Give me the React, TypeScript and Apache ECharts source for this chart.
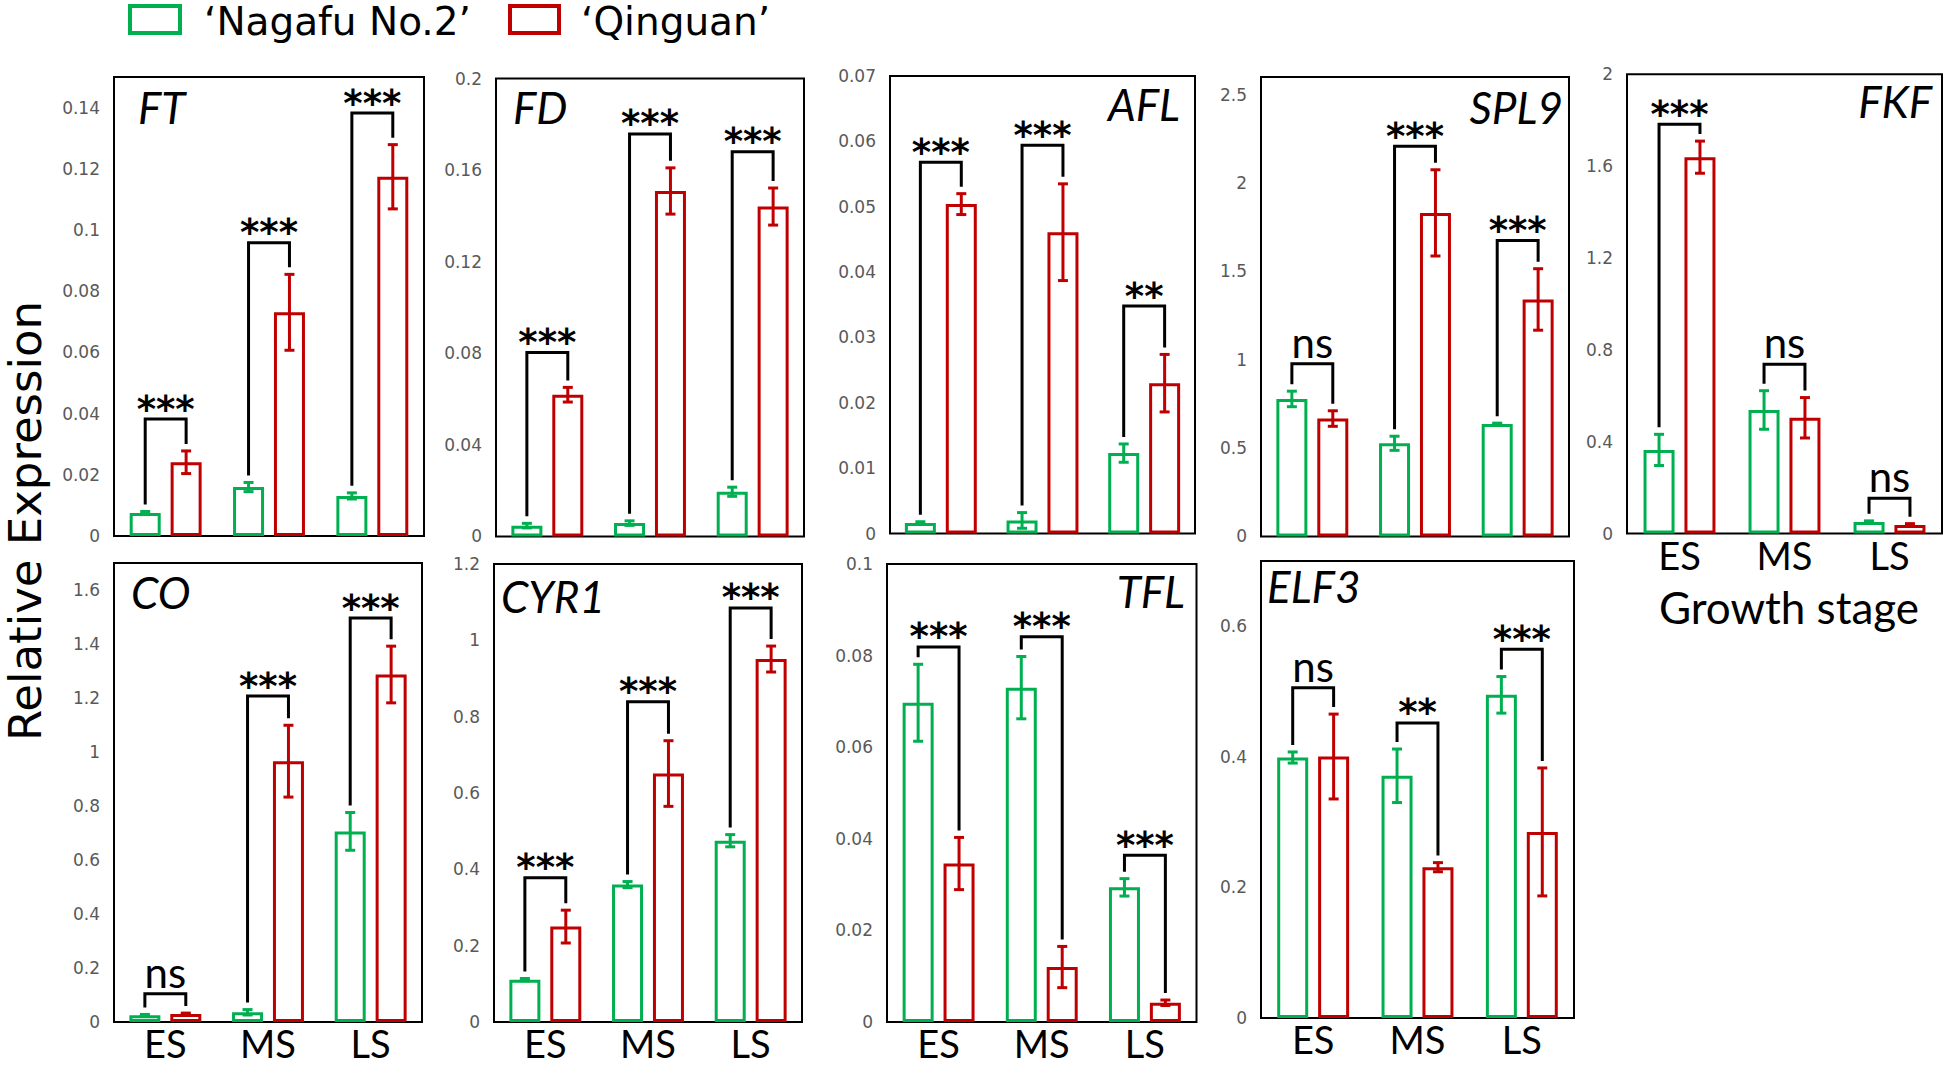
import React, { useEffect, useRef } from 'react';
import * as echarts from 'echarts';

// ---------- data ----------
const STAGES = ['ES', 'MS', 'LS'];
const SERIES_NAMES = ['\u2018Nagafu No.2\u2019', '\u2018Qinguan\u2019'];
const GENE_NAMES = ['FT', 'FD', 'AFL', 'SPL9', 'FKF', 'CO', 'CYR1', 'TFL', 'ELF3'];
const Y_MAX = [0.15, 0.2, 0.07, 2.6, 2, 1.7, 1.2, 0.1, 0.7];
const Y_INTERVAL = [0.02, 0.04, 0.01, 0.5, 0.4, 0.2, 0.2, 0.02, 0.2];

const FT_NAGAFU = [0.0075, 0.016, 0.0131];
const FT_NAGAFU_SD = [0.0005, 0.0015, 0.001];
const FT_QINGUAN = [0.0241, 0.0731, 0.1174];
const FT_QINGUAN_SD = [0.0037, 0.0124, 0.0105];
const FT_BRACKET = [0.0382, 0.0958, 0.1382];
const FT_SIG = ['***', '***', '***'];

const FD_NAGAFU = [0.0047, 0.0058, 0.0195];
const FD_NAGAFU_SD = [0.001, 0.001, 0.002];
const FD_QINGUAN = [0.0619, 0.1509, 0.1441];
const FD_QINGUAN_SD = [0.0032, 0.0101, 0.0081];
const FD_BRACKET = [0.0803, 0.1758, 0.168];
const FD_SIG = ['***', '***', '***'];

const AFL_NAGAFU = [0.0016, 0.002, 0.0123];
const AFL_NAGAFU_SD = [0.0002, 0.0012, 0.0014];
const AFL_QINGUAN = [0.0504, 0.0461, 0.023];
const AFL_QINGUAN_SD = [0.0016, 0.0074, 0.0044];
const AFL_BRACKET = [0.0568, 0.0594, 0.0348];
const AFL_SIG = ['***', '***', '**'];

const SPL9_NAGAFU = [0.778, 0.527, 0.636];
const SPL9_NAGAFU_SD = [0.044, 0.04, 0.005];
const SPL9_QINGUAN = [0.667, 1.831, 1.341];
const SPL9_QINGUAN_SD = [0.044, 0.244, 0.174];
const SPL9_BRACKET = [0.977, 2.208, 1.675];
const SPL9_SIG = ['ns', '***', '***'];

const FKF_NAGAFU = [0.364, 0.538, 0.05];
const FKF_NAGAFU_SD = [0.068, 0.084, 0.005];
const FKF_QINGUAN = [1.639, 0.504, 0.037];
const FKF_QINGUAN_SD = [0.07, 0.088, 0.006];
const FKF_BRACKET = [1.782, 0.737, 0.154];
const FKF_SIG = ['***', 'ns', 'ns'];

const CO_NAGAFU = [0.025, 0.036, 0.706];
const CO_NAGAFU_SD = [0.003, 0.01, 0.07];
const CO_QINGUAN = [0.03, 0.966, 1.287];
const CO_QINGUAN_SD = [0.003, 0.133, 0.105];
const CO_BRACKET = [0.105, 1.207, 1.496];
const CO_SIG = ['ns', '***', '***'];

const CYR1_NAGAFU = [0.111, 0.36, 0.475];
const CYR1_NAGAFU_SD = [0.003, 0.008, 0.016];
const CYR1_QINGUAN = [0.25, 0.651, 0.951];
const CYR1_QINGUAN_SD = [0.043, 0.086, 0.034];
const CYR1_BRACKET = [0.378, 0.839, 1.085];
const CYR1_SIG = ['***', '***', '***'];

const TFL_NAGAFU = [0.0697, 0.073, 0.0294];
const TFL_NAGAFU_SD = [0.0084, 0.0068, 0.0019];
const TFL_QINGUAN = [0.0346, 0.012, 0.0042];
const TFL_QINGUAN_SD = [0.0057, 0.0045, 0.0006];
const TFL_BRACKET = [0.0819, 0.0841, 0.0364];
const TFL_SIG = ['***', '***', '***'];

const ELF3_NAGAFU = [0.399, 0.371, 0.495];
const ELF3_NAGAFU_SD = [0.0085, 0.041, 0.028];
const ELF3_QINGUAN = [0.4005, 0.231, 0.285];
const ELF3_QINGUAN_SD = [0.065, 0.007, 0.098];
const ELF3_BRACKET = [0.506, 0.452, 0.565];
const ELF3_SIG = ['ns', '**', '***'];

const GENES = [
  [FT_NAGAFU, FT_NAGAFU_SD, FT_QINGUAN, FT_QINGUAN_SD, FT_BRACKET, FT_SIG],
  [FD_NAGAFU, FD_NAGAFU_SD, FD_QINGUAN, FD_QINGUAN_SD, FD_BRACKET, FD_SIG],
  [AFL_NAGAFU, AFL_NAGAFU_SD, AFL_QINGUAN, AFL_QINGUAN_SD, AFL_BRACKET, AFL_SIG],
  [SPL9_NAGAFU, SPL9_NAGAFU_SD, SPL9_QINGUAN, SPL9_QINGUAN_SD, SPL9_BRACKET, SPL9_SIG],
  [FKF_NAGAFU, FKF_NAGAFU_SD, FKF_QINGUAN, FKF_QINGUAN_SD, FKF_BRACKET, FKF_SIG],
  [CO_NAGAFU, CO_NAGAFU_SD, CO_QINGUAN, CO_QINGUAN_SD, CO_BRACKET, CO_SIG],
  [CYR1_NAGAFU, CYR1_NAGAFU_SD, CYR1_QINGUAN, CYR1_QINGUAN_SD, CYR1_BRACKET, CYR1_SIG],
  [TFL_NAGAFU, TFL_NAGAFU_SD, TFL_QINGUAN, TFL_QINGUAN_SD, TFL_BRACKET, TFL_SIG],
  [ELF3_NAGAFU, ELF3_NAGAFU_SD, ELF3_QINGUAN, ELF3_QINGUAN_SD, ELF3_BRACKET, ELF3_SIG],
];

// ---------- layout / style ----------
const GREEN = '#00B050';
const RED = '#C00000';
const BAR_W = 31;
const BAR_GAP = 0.32;
const LEG_GAP = 7;
const CAP_HALF = 5;

const LAYOUT = [
  { l: 114, t: 77, w: 310, h: 459, xl: false, nx: 138, ny: 107, na: 'left' },
  { l: 496, t: 78.6, w: 308, h: 457.8, xl: false, nx: 513, ny: 107, na: 'left' },
  { l: 890, t: 76, w: 305, h: 457.5, xl: false, nx: 1180, ny: 104, na: 'right' },
  { l: 1261, t: 77, w: 308, h: 459.4, xl: false, nx: 1563, ny: 107, na: 'right' },
  { l: 1627, t: 74.3, w: 315, h: 459.2, xl: true, nx: 1932, ny: 101, na: 'right' },
  { l: 114, t: 563, w: 308, h: 459, xl: true, nx: 131, ny: 592, na: 'left' },
  { l: 494, t: 564, w: 308, h: 458, xl: true, nx: 501, ny: 596, na: 'left' },
  { l: 887, t: 564, w: 309.5, h: 458, xl: true, nx: 1185, ny: 591, na: 'right' },
  { l: 1261, t: 561, w: 313, h: 457, xl: true, nx: 1267, ny: 586, na: 'left' },
];

function makeRenderItem(g: any[]) {
  const [nag, nagSd, qin, qinSd, br, sig] = g;
  return (params: any, api: any) => {
    const i = params.dataIndex;
    const cx = api.coord([i, 0])[0];
    const off = (BAR_W * (1 + BAR_GAP)) / 2;
    const gx = cx - off;
    const rx = cx + off;
    const y = (v: number) => api.coord([i, v])[1];
    const gTop = y(nag[i] + nagSd[i]);
    const gBot = y(Math.max(0, nag[i] - nagSd[i]));
    const rTop = y(qin[i] + qinSd[i]);
    const rBot = y(Math.max(0, qin[i] - qinSd[i]));
    const bY = y(br[i]);
    const err = (x: number, t: number, b: number, c: string) => [
      { type: 'line', shape: { x1: x, y1: t, x2: x, y2: b }, style: { stroke: c, lineWidth: 3 } },
      { type: 'line', shape: { x1: x - CAP_HALF, y1: t, x2: x + CAP_HALF, y2: t }, style: { stroke: c, lineWidth: 3 } },
      { type: 'line', shape: { x1: x - CAP_HALF, y1: b, x2: x + CAP_HALF, y2: b }, style: { stroke: c, lineWidth: 3 } },
    ];
    const isNs = sig[i] === 'ns';
    return {
      type: 'group',
      children: [
        ...err(gx, gTop, gBot, GREEN),
        ...err(rx, rTop, rBot, RED),
        {
          type: 'polyline',
          shape: { points: [[gx, gTop - LEG_GAP], [gx, bY], [rx, bY], [rx, rTop - LEG_GAP]] },
          style: { stroke: '#000', lineWidth: 3, fill: 'none' },
        },
        {
          type: 'text',
          x: (gx + rx) / 2,
          y: bY - (isNs ? 22 : 10),
          style: {
            text: sig[i],
            fontFamily: isNs ? 'Lato' : 'DejaVu Sans',
            fontWeight: isNs ? 'normal' : 'bold',
            fontSize: isNs ? 42 : 37,
            fill: '#000',
            align: 'center',
            verticalAlign: 'middle',
          },
        },
      ],
    };
  };
}

export default function App() {
  const ref = useRef<HTMLDivElement>(null);
  useEffect(() => {
    if (!ref.current) return;
    const chart = echarts.init(ref.current, undefined, { renderer: 'svg' });
    const grid: any[] = [];
    const xAxis: any[] = [];
    const yAxis: any[] = [];
    const series: any[] = [];
    const graphic: any[] = [];
    GENES.forEach((g, k) => {
      const L = LAYOUT[k];
      grid.push({
        left: L.l, top: L.t, width: L.w, height: L.h,
        show: true, borderColor: '#000', borderWidth: 2, backgroundColor: 'transparent',
      });
      xAxis.push({
        type: 'category', gridIndex: k, data: STAGES,
        axisLine: { show: false }, axisTick: { show: false },
        axisLabel: { show: L.xl, fontFamily: 'Lato', fontSize: 38, lineHeight: 38, color: '#000', margin: 2 },
      });
      const max = Y_MAX[k];
      const itv = Y_INTERVAL[k];
      const isMult = Math.abs(max / itv - Math.round(max / itv)) < 1e-6;
      yAxis.push({
        type: 'value', gridIndex: k, min: 0, max, interval: itv,
        splitLine: { show: false }, axisLine: { show: false }, axisTick: { show: false },
        axisLabel: {
          fontFamily: 'DejaVu Sans', fontSize: 17, color: '#595959', margin: 14,
          showMaxLabel: isMult,
        },
      });
      series.push({
        type: 'bar', name: SERIES_NAMES[0], xAxisIndex: k, yAxisIndex: k, data: g[0],
        barWidth: BAR_W, barGap: BAR_GAP * 100 + '%', silent: true,
        itemStyle: { color: '#fff', borderColor: GREEN, borderWidth: 3 },
      });
      series.push({
        type: 'bar', name: SERIES_NAMES[1], xAxisIndex: k, yAxisIndex: k, data: g[2],
        barWidth: BAR_W, barGap: BAR_GAP * 100 + '%', silent: true,
        itemStyle: { color: '#fff', borderColor: RED, borderWidth: 3 },
      });
      series.push({
        type: 'custom', xAxisIndex: k, yAxisIndex: k, z: 10, silent: true,
        data: STAGES.map((_, i) => [i, 0]),
        encode: { x: 0, y: 1 },
        renderItem: makeRenderItem(g),
      });
      graphic.push({
        type: 'text', x: L.nx, y: L.ny,
        style: {
          text: GENE_NAMES[k], fontFamily: 'Lato', fontStyle: 'italic', fontSize: 44,
          fill: '#000', align: L.na, verticalAlign: 'middle',
        },
      });
    });
    // legend
    graphic.push(
      { type: 'rect', shape: { x: 130, y: 6, width: 50, height: 27 }, style: { fill: '#fff', stroke: GREEN, lineWidth: 4 } },
      { type: 'text', x: 204, y: 21, style: { text: SERIES_NAMES[0], fontFamily: 'DejaVu Sans', fontSize: 39, lineHeight: 40, fill: '#000', align: 'left', verticalAlign: 'middle' } },
      { type: 'rect', shape: { x: 510, y: 6, width: 49, height: 27 }, style: { fill: '#fff', stroke: RED, lineWidth: 4 } },
      { type: 'text', x: 581, y: 21, style: { text: SERIES_NAMES[1], fontFamily: 'DejaVu Sans', fontSize: 39, lineHeight: 40, fill: '#000', align: 'left', verticalAlign: 'middle' } },
      { type: 'text', x: 25, y: 521, rotation: Math.PI / 2, style: { text: 'Relative Expression', fontFamily: 'DejaVu Sans', fontSize: 45, lineHeight: 46, fill: '#000', align: 'center', verticalAlign: 'middle' } },
      { type: 'text', x: 1789, y: 607, style: { text: 'Growth stage', fontFamily: 'Lato', fontSize: 44, fill: '#000', align: 'center', verticalAlign: 'middle' } },
    );
    chart.setOption({
      animation: false,
      backgroundColor: '#fff',
      grid, xAxis, yAxis, series, graphic,
    });
    return () => chart.dispose();
  }, []);
  return (
    <div
      ref={ref}
      style={{ position: 'absolute', left: 0, top: 0, width: 1946, height: 1067, background: '#fff' }}
    />
  );
}
